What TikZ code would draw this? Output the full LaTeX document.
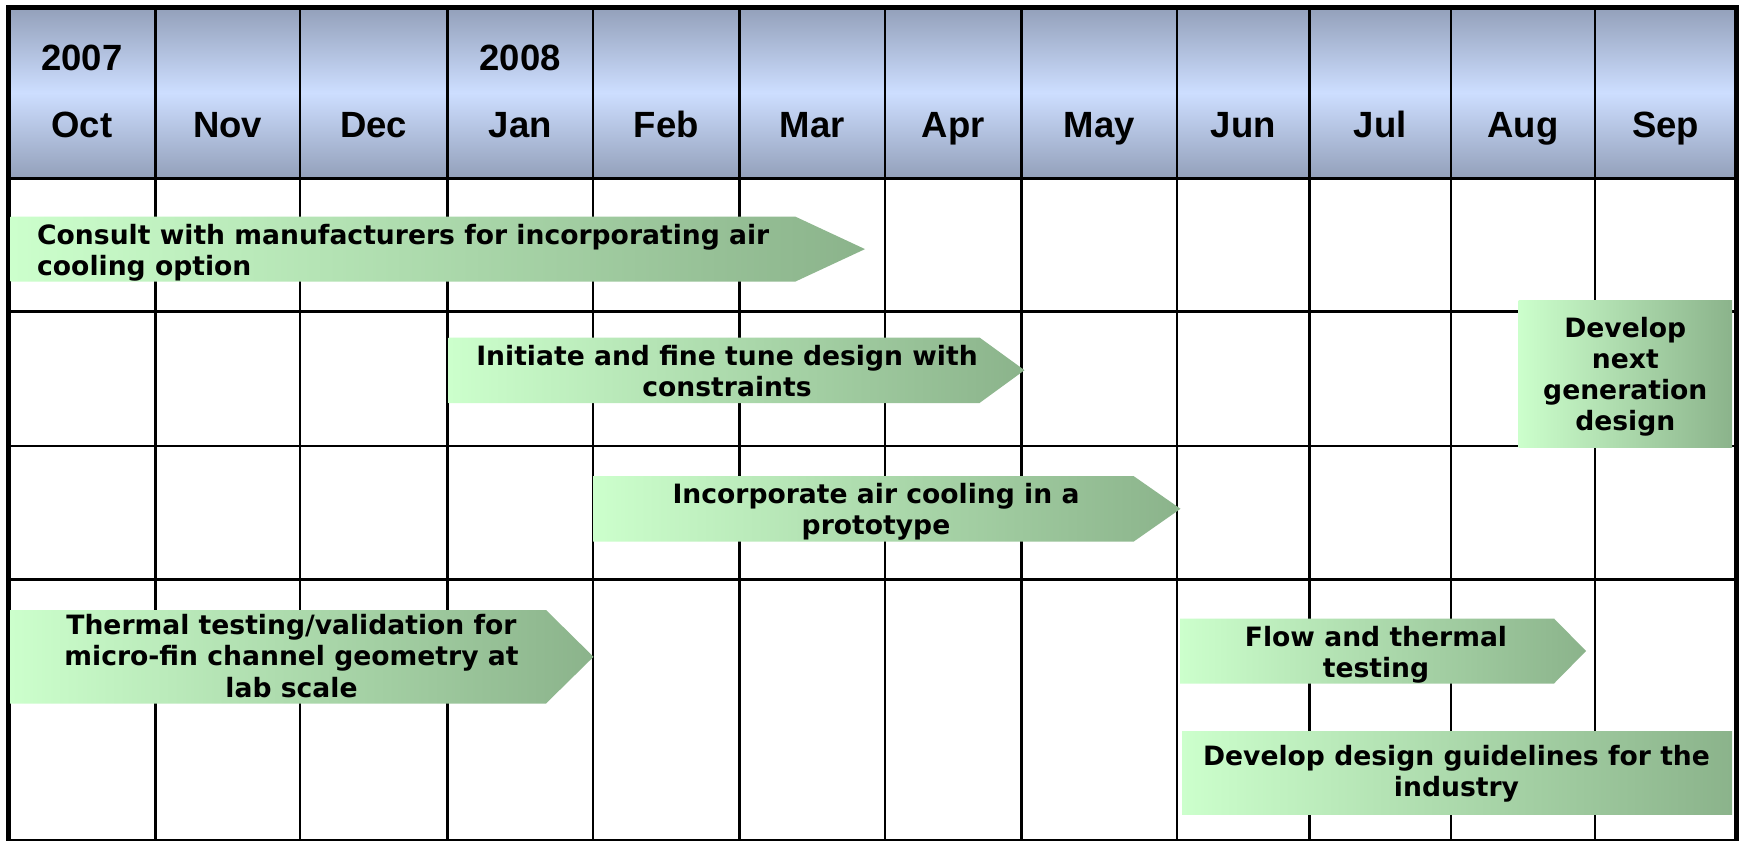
\documentclass[tikz,border=0pt]{standalone}
\usepackage{fontspec}
\newfontfamily\hdrfont{Liberation Sans}
\newfontfamily\barfont{DejaVu Sans}
\definecolor{hdark}{RGB}{147,160,186}
\definecolor{hlight}{RGB}{205,222,255}
\definecolor{barL}{RGB}{204,255,204}
\definecolor{barR}{RGB}{139,179,139}
\tikzset{
  hdr/.style={font=\hdrfont\bfseries\fontsize{36.5}{40}\selectfont, inner sep=0pt, anchor=base},
  bartxt/.style={font=\barfont\bfseries\fontsize{26.6}{31.3}\selectfont, inner sep=0pt, anchor=base},
  barfill/.style={left color=barL, right color=barR, draw=none},
  gridline/.style={line width=2.2pt, draw=black},
  borderline/.style={line width=5pt, draw=black},
}
\newcommand{\ctext}[1]{\begin{tabular}[t]{@{}c@{}}#1\end{tabular}}
\newcommand{\ltext}[1]{\begin{tabular}[t]{@{}l@{}}#1\end{tabular}}
\begin{document}
\begin{tikzpicture}[x=1pt,y=-1pt]
\useasboundingbox (0,0) rectangle (1741,841);
\fill[white] (0,0) rectangle (1741,841);
% header band
\path[top color=hdark, bottom color=hdark, middle color=hlight] (8,7.5) rectangle (1736,178);
% grid
\foreach \x in {155.5,300,447.5,593,739.5,885,1021.5,1177,1309.5,1451,1595}
  \draw[gridline] (\x,7.5) -- (\x,841);
\foreach \y in {311.5,446,579.5}
  \draw[gridline] (8,\y) -- (1736,\y);
\draw[line width=3pt] (8,178) -- (1736,178);
\draw[gridline] (8,839.8) -- (1736,839.8);
\draw[borderline] (8,841) -- (8,7.5) -- (1736,7.5) -- (1736,841);
% header texts
\node[hdr] (y2007) at (82,70.7) {2007};
\node[hdr] (y2008) at (520.3,70.7) {2008};
\node[hdr] (mOct) at (82,137.3) {Oct};
\node[hdr] (mNov) at (227.8,137.3) {Nov};
\node[hdr] (mDec) at (373.8,137.3) {Dec};
\node[hdr] (mJan) at (520.3,137.3) {Jan};
\node[hdr] (mFeb) at (666.3,137.3) {Feb};
\node[hdr] (mMar) at (812.3,137.3) {Mar};
\node[hdr] (mApr) at (953.3,137.3) {Apr};
\node[hdr] (mMay) at (1099.3,137.3) {May};
\node[hdr] (mJun) at (1243.3,137.3) {Jun};
\node[hdr] (mJul) at (1380.3,137.3) {Jul};
\node[hdr] (mAug) at (1523,137.3) {Aug};
\node[hdr] (mSep) at (1665.5,137.3) {Sep};
% bars
\path[barfill] (10.7,216.7) -- (795.5,216.7) -- (865,249.1) -- (795.5,281.5) -- (10.7,281.5) -- cycle;
\node[bartxt, anchor=base west] (t1) at (37,244.3) {\ltext{Consult with manufacturers for incorporating air\\cooling option}};
\path[barfill] (448.5,337.5) -- (979.5,337.5) -- (1024.5,370.2) -- (979.5,403) -- (448.5,403) -- cycle;
\node[bartxt] (t2) at (727,365) {\ctext{Initiate and fine tune design with\\constraints}};
\path[barfill] (593,476) -- (1133.5,476) -- (1180.5,508.8) -- (1133.5,541.7) -- (593,541.7) -- cycle;
\node[bartxt] (t3) at (876,503.3) {\ctext{Incorporate air cooling in a\\prototype}};
\path[barfill] (10,610) -- (546,610) -- (593.5,656.8) -- (546,703.5) -- (10,703.5) -- cycle;
\node[bartxt] (t4) at (291.5,634.5) {\ctext{Thermal testing/validation for\\micro-fin channel geometry at\\lab scale}};
\path[barfill] (1180,618.5) -- (1554,618.5) -- (1586,651) -- (1554,683.5) -- (1180,683.5) -- cycle;
\node[bartxt] (t5) at (1376,646) {\ctext{Flow and thermal\\testing}};
\path[barfill] (1182,731) rectangle (1732,814.5);
\node[bartxt] (t6) at (1456.5,765.5) {\ctext{Develop design guidelines for the\\industry}};
\path[barfill] (1518.5,300) rectangle (1732,447.5);
\node[bartxt] (t7) at (1625.3,337) {\ctext{Develop\\next\\generation\\design}};
\end{tikzpicture}
\end{document}
